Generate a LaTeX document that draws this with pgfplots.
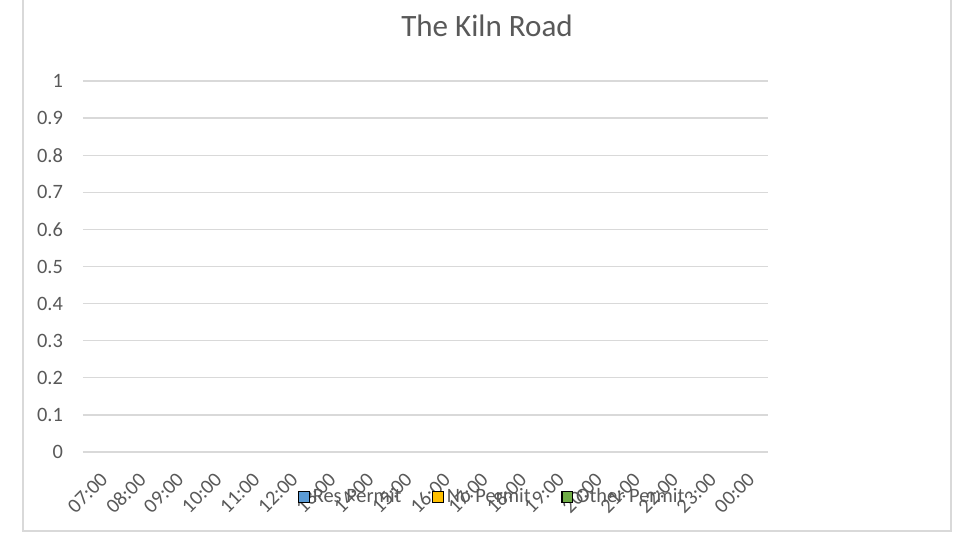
\documentclass[border=0pt]{standalone}
\usepackage{fontspec}
\setmainfont{Carlito}
\usepackage{pgfplots}
\pgfplotsset{compat=1.18}
\definecolor{txt}{HTML}{595959}
\definecolor{grd}{HTML}{D9D9D9}
\definecolor{resc}{HTML}{5B9BD5}
\definecolor{noc}{HTML}{FFC000}
\definecolor{othc}{HTML}{70AD47}
\newcommand{\tickfont}{\fontsize{15.3}{18}\selectfont}
\begin{document}
\begin{tikzpicture}
% page = 953 x 540 px, 1 px = 0.75 pt
\path[use as bounding box, fill=white] (0,0) rectangle (714.75pt,405pt);
\draw[grd, line width=1pt] (17.25pt,405pt) -- (17.25pt,6.75pt) -- (713.25pt,6.75pt) -- (713.25pt,405pt);
\begin{axis}[
    at={(62.25pt,66pt)}, anchor=south west,
    scale only axis,
    width=513.75pt, height=278.25pt,
    xmin=0, xmax=18, ymin=0, ymax=1,
    ybar, bar width=8pt,
    axis on top,
    axis line style={draw=none},
    tick style={draw=none},
    ytick={0,0.1,0.2,0.3,0.4,0.5,0.6,0.7,0.8,0.9,1},
    yticklabels={0,0.1,0.2,0.3,0.4,0.5,0.6,0.7,0.8,0.9,1},
    ymajorgrids, grid style={grd, line width=1pt},
    xtick={0.5,1.5,...,17.5},
    xticklabels={07:00,08:00,09:00,10:00,11:00,12:00,13:00,14:00,15:00,16:00,17:00,18:00,19:00,20:00,21:00,22:00,23:00,00:00},
    /pgf/number format/assume math mode=true,
    yticklabel style={font=\tickfont, text=txt, xshift=-11.5pt},
    xticklabel style={font=\tickfont, text=txt, rotate=45, anchor=north east, xshift=-5.4pt, yshift=-2.5pt},
    title={The Kiln Road},
    title style={at={(axis description cs:0.5898,1.0997)}, anchor=base, font=\fontsize{23.3}{27}\selectfont, text=txt},
    legend columns=3,
    legend style={at={(axis description cs:0.5978,-0.121)}, anchor=center, draw=none, fill=none,
        font=\tickfont, text=txt,
        /tikz/every even column/.append style={column sep=21pt}},
    legend image code/.code={\draw[#1, draw=black, line width=0.9pt] (0pt,-4.1pt) rectangle (8.2pt,4.1pt);},
]
\addplot[fill=resc, draw=none] coordinates {(0.5,0) (1.5,0) (2.5,0) (3.5,0) (4.5,0) (5.5,0) (6.5,0) (7.5,0) (8.5,0) (9.5,0) (10.5,0) (11.5,0) (12.5,0) (13.5,0) (14.5,0) (15.5,0) (16.5,0) (17.5,0)};
\addplot[fill=noc, draw=none] coordinates {(0.5,0) (1.5,0) (2.5,0) (3.5,0) (4.5,0) (5.5,0) (6.5,0) (7.5,0) (8.5,0) (9.5,0) (10.5,0) (11.5,0) (12.5,0) (13.5,0) (14.5,0) (15.5,0) (16.5,0) (17.5,0)};
\addplot[fill=othc, draw=none] coordinates {(0.5,0) (1.5,0) (2.5,0) (3.5,0) (4.5,0) (5.5,0) (6.5,0) (7.5,0) (8.5,0) (9.5,0) (10.5,0) (11.5,0) (12.5,0) (13.5,0) (14.5,0) (15.5,0) (16.5,0) (17.5,0)};
\legend{Res Permit, No Permit, Other Permit}
\end{axis}
\end{tikzpicture}
\end{document}
